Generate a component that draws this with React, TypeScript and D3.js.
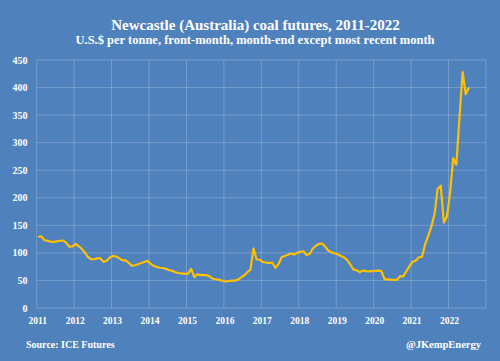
import React from 'react';
import * as d3 from 'd3';

// month-end front-month prices, US$/tonne
const prices2011 = [129, 130, 123, 122, 120.5, 120, 121, 122, 122.5, 118, 111, 112];
const prices2012 = [116.5, 112, 107, 100, 92, 88.5, 88.5, 90.5, 89.5, 83.5, 86, 92];
const prices2013 = [94.5, 93.5, 90, 86.5, 86.5, 82, 77, 77.5, 79.5, 81.5, 83.5, 85.5];
const prices2014 = [80.5, 76.5, 74.5, 73, 72.6, 71, 68.5, 67.5, 64.5, 63.5, 62.8, 62];
const prices2015 = [62.3, 71, 56, 61.5, 59.5, 59.8, 59.5, 57, 53, 52, 51, 49.5];
const prices2016 = [48, 49, 49.5, 49.5, 51.5, 55.5, 59, 65, 69.5, 108, 88, 87.5];
const prices2017 = [83.5, 82.5, 81.3, 82.5, 73, 80, 92, 94.5, 96.5, 99, 97, 100];
const prices2018 = [102, 103, 96, 98.5, 108, 113, 116.5, 117, 111, 104, 101, 99];
const prices2019 = [97.5, 94.5, 92, 87, 79, 70, 68.5, 65, 68, 67, 66.5, 67];
const prices2020 = [67.2, 67.7, 67, 52, 52, 51.5, 51.2, 51, 58, 57.5, 67, 76];
const prices2021 = [84, 86, 92, 93, 116, 131, 148, 170, 216, 222, 155, 166];
const prices2022 = [210, 272, 260, 345, 428, 388, 400];

const yearTicks = [2011, 2012, 2013, 2014, 2015, 2016, 2017, 2018, 2019, 2020, 2021, 2022];
const valueTicks = [0, 50, 100, 150, 200, 250, 300, 350, 400, 450];

const W = 500;
const H = 361;
const bg = '#4F81BD';
const grid = 'rgba(255,255,255,0.22)';
const font = '"Liberation Serif", "Times New Roman", serif';

export default function App() {
  const all = [
    ...prices2011, ...prices2012, ...prices2013, ...prices2014, ...prices2015, ...prices2016,
    ...prices2017, ...prices2018, ...prices2019, ...prices2020, ...prices2021, ...prices2022,
  ];
  const data = all.map((v, i) => ({ t: 2011 + (i + 0.5) / 12, v }));

  const x = d3.scaleLinear().domain([2011, 2023]).range([36.7, 486]);
  const y = d3.scaleLinear().domain([0, 450]).range([308, 60]);

  const line = d3.line<{ t: number; v: number }>()
    .x(d => x(d.t))
    .y(d => y(d.v));

  const vLines = d3.range(2011, 2024);

  return (
    <svg width={W} height={H} style={{ position: 'absolute', left: 0, top: 0 }} fontFamily={font}>
      <rect width={W} height={H} fill={bg} />

      {/* gridlines */}
      {valueTicks.map(v => (
        <line key={'h' + v} x1={x(2011)} x2={x(2023)} y1={y(v)} y2={y(v)} stroke={grid} strokeWidth={1} />
      ))}
      {vLines.map(t => (
        <line key={'v' + t} x1={x(t)} x2={x(t)} y1={y(0)} y2={y(450)} stroke={grid} strokeWidth={1} />
      ))}

      <path d={line(data) || ''} fill="none" stroke="#FFC000" strokeWidth={2.2} strokeLinejoin="round" />

      {/* axis labels */}
      {valueTicks.map(v => (
        <text key={'yl' + v} x={27.5} y={y(v)} dy="0.35em" textAnchor="end" fill="#fff" fontWeight="bold" fontSize={10}>
          {v}
        </text>
      ))}
      {yearTicks.map(t => (
        <text key={'xl' + t} x={x(t) + 1} y={324} textAnchor="middle" fill="#fff" fontWeight="bold" fontSize={9.5}>
          {t}
        </text>
      ))}

      <text x={255.5} y={29.5} textAnchor="middle" fill="#fff" fontWeight="bold" fontSize={15}>
        Newcastle (Australia) coal futures, 2011-2022
      </text>
      <text x={255} y={43.5} textAnchor="middle" fill="#fff" fontWeight="bold" fontSize={12.5}>
        U.S.$ per tonne, front-month, month-end except most recent month
      </text>

      <text x={26} y={347.5} fill="#fff" fontWeight="bold" fontSize={10}>Source: ICE Futures</text>
      <text x={481} y={347.5} textAnchor="end" fill="#fff" fontWeight="bold" fontSize={10.5}>@JKempEnergy</text>
    </svg>
  );
}
